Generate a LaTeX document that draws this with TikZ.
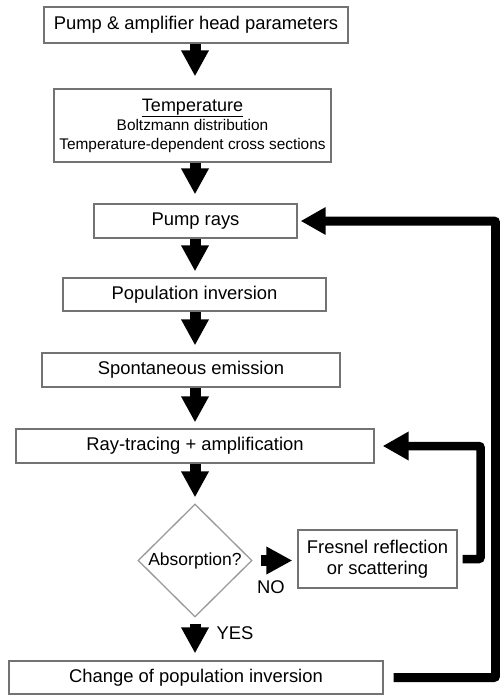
\documentclass[tikz,border=0pt]{standalone}
\usepackage{fontspec}
\setmainfont{Liberation Sans}
\usetikzlibrary{shapes.geometric,arrows.meta}
\begin{document}
\begin{tikzpicture}[x=1pt,y=-1pt,
  box/.style={draw=black!55, line width=1.3pt, fill=white, inner sep=0pt, align=center, font=\fontsize{18.4}{22}\selectfont},
  dia/.style={diamond, draw=black!40, line width=1.3pt, inner sep=0pt, minimum width=114pt, minimum height=113pt},
  flow/.style={line width=11pt, -{Triangle[width=26pt,length=26pt]}},
  back/.style={line width=8.5pt, rounded corners=2pt, -{Triangle[width=27pt,length=26pt]}},
  lbl/.style={font=\fontsize{18.4}{22}\selectfont, inner sep=0pt}
]
\useasboundingbox (0,0) rectangle (499,695);
\coordinate (ax) at (195,0);

\node[box, minimum width=304pt, minimum height=36pt] (b1) at (196,25) {Pump \& amplifier head parameters};
\node[box, minimum width=277pt, minimum height=73pt, font=\fontsize{15.4}{19}\selectfont] (b2) at (192.5,125.5)
  {{\fontsize{18}{19}\selectfont\underline{Temperature}}\\
   Boltzmann distribution\\
   Temperature-dependent cross sections};
\node[box, minimum width=203pt, minimum height=34pt] (b3) at (195.5,221) {Pump rays};
\node[box, minimum width=263pt, minimum height=33pt] (b4) at (194.5,294.5) {Population inversion};
\node[box, minimum width=298pt, minimum height=34pt] (b5) at (191,370) {Spontaneous emission};
\node[box, minimum width=358pt, minimum height=34pt] (b6) at (195,446) {Ray-tracing + amplification};
\node[dia, label={[lbl, font=\fontsize{17.5}{21}\selectfont]center:Absorption?}] (d) at (195,560.5) {};
\node[box, minimum width=159pt, minimum height=58pt, font=\fontsize{18.4}{21}\selectfont] (b7) at (377.5,559) {Fresnel reflection\\or scattering};
\node[box, minimum width=374pt, minimum height=33pt] (b8) at (196,677.5) {Change of population inversion};

\draw[flow, shorten >=12pt] (b1.south -| ax) -- (b2.north -| ax);
\draw[flow, shorten >=9pt] (b2.south -| ax) -- (b3.north -| ax);
\draw[flow, shorten >=6pt] (b3.south -| ax) -- (b4.north -| ax);
\draw[flow, shorten >=7pt] (b4.south -| ax) -- (b5.north -| ax);
\draw[flow, shorten >=6pt] (b5.south -| ax) -- (b6.north -| ax);
\draw[flow, shorten >=6pt] (b6.south -| ax) -- (d.north);
\draw[flow, shorten <=6pt, shorten >=7pt] (d.south) -- (b8.north -| ax);
\draw[flow, shorten <=8pt, shorten >=5pt] (d.east) -- (b7.west |- d.east);

\node[lbl, anchor=center] (no) at (271,587) {NO};
\node[lbl, anchor=center] (yes) at (235,633) {YES};

\draw[back, shorten <=5pt, shorten >=8pt] (b7.east) -- ++(23,0) |- (b6.east);
\draw[back, line width=9pt, -{Triangle[width=26pt,length=25pt]}, shorten <=10pt, shorten >=3pt] (b8.east) -- ++(112,0) |- (b3.east);
\end{tikzpicture}
\end{document}
